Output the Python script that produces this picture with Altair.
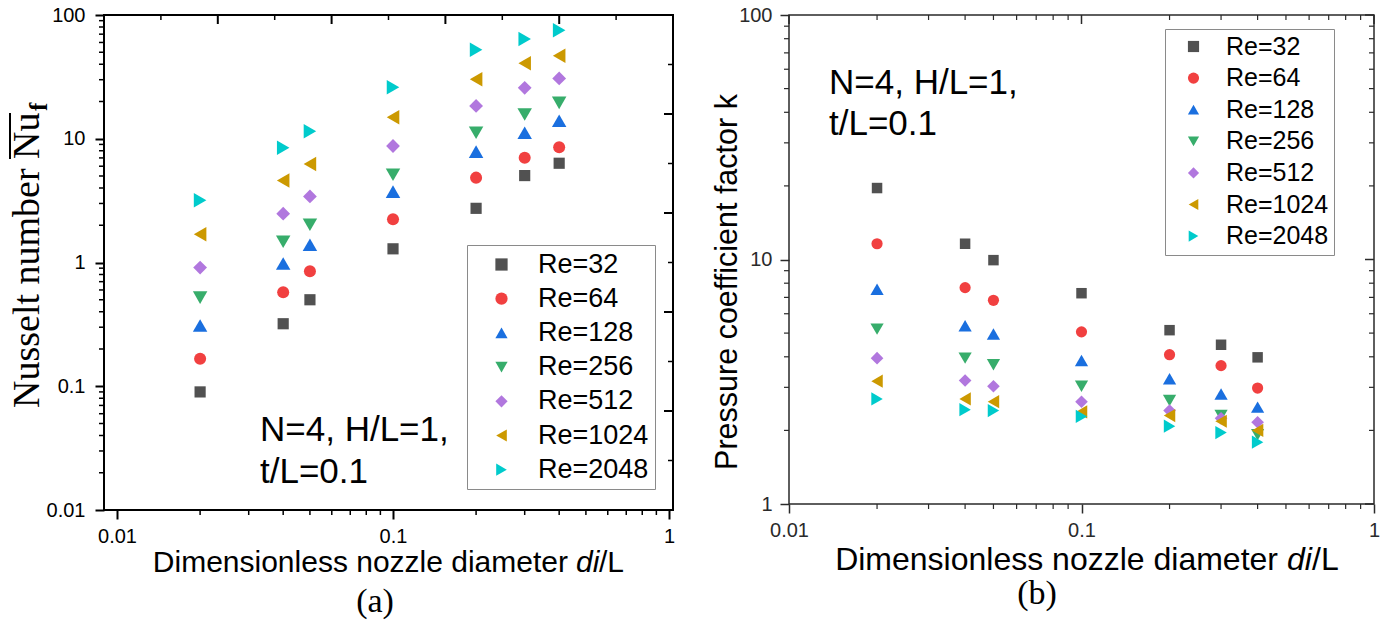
import altair as alt
import pandas as pd

# ---------------- data ----------------
x_vals = [0.02, 0.04, 0.05, 0.1, 0.2, 0.3, 0.4]
series = ["Re=32", "Re=64", "Re=128", "Re=256", "Re=512", "Re=1024", "Re=2048"]

nu_re32 = [0.09, 0.32, 0.50, 1.29, 2.74, 5.04, 6.34]
nu_re64 = [0.167, 0.575, 0.85, 2.24, 4.85, 7.03, 8.53]
nu_re128 = [0.31, 0.98, 1.39, 3.74, 7.87, 11.2, 13.96]
nu_re256 = [0.52, 1.47, 2.02, 5.12, 11.2, 15.7, 19.5]
nu_re512 = [0.91, 2.48, 3.42, 8.74, 18.4, 25.8, 30.7]
nu_re1024 = [1.69, 4.6, 6.25, 14.9, 30.2, 40.7, 46.9]
nu_re2048 = [3.18, 8.47, 11.5, 26.1, 52.4, 64.0, 75.4]

k_re32 = [19.6, 11.6, 9.94, 7.28, 5.14, 4.48, 3.98]
k_re64 = [11.6, 7.67, 6.81, 5.06, 4.08, 3.68, 2.98]
k_re128 = [7.55, 5.36, 4.96, 3.86, 3.25, 2.82, 2.49]
k_re256 = [5.19, 3.95, 3.71, 3.03, 2.65, 2.30, 1.92]
k_re512 = [3.95, 3.20, 3.03, 2.62, 2.41, 2.24, 2.16]
k_re1024 = [3.18, 2.69, 2.62, 2.38, 2.30, 2.18, 2.00]
k_re2048 = [2.69, 2.43, 2.41, 2.28, 2.08, 1.96, 1.79]

colors = ["#515151", "#F14040", "#1A6FDF", "#37AD6B", "#B177DE", "#CC9900", "#00CBCC"]
shapes = ["square", "circle", "triangle-up", "triangle-down", "diamond", "triangle-left", "triangle-right"]
sizes_a = [125, 145, 210, 210, 190, 210, 210]
sizes_b = [110, 125, 175, 175, 160, 175, 175]

# tick positions
x_major = [0.01, 0.1, 1]
x_minor = [0.02, 0.03, 0.04, 0.05, 0.06, 0.07, 0.08, 0.09,
           0.2, 0.3, 0.4, 0.5, 0.6, 0.7, 0.8, 0.9]
nu_major = [0.01, 0.1, 1, 10, 100]
nu_minor = [0.02, 0.03, 0.04, 0.05, 0.06, 0.07, 0.08, 0.09,
            0.2, 0.3, 0.4, 0.5, 0.6, 0.7, 0.8, 0.9,
            2, 3, 4, 5, 6, 7, 8, 9,
            20, 30, 40, 50, 60, 70, 80, 90]
k_major = [1, 10, 100]
k_minor = [2, 3, 4, 5, 6, 7, 8, 9, 20, 30, 40, 50, 60, 70, 80, 90]
lin_major = [0, 20, 40, 60, 80, 100]
lin_minor = [10, 30, 50, 70, 90]

annotation = ["N=4, H/L=1,", "t/L=0.1"]
nu_title = "Nusselt number Nu"
nu_sub = "f"
k_title = "Pressure coefficient factor k"
x_title_main = "Dimensionless nozzle diameter"
x_title_ital = "di"
x_title_end = "/L"
captions = ["(a)", "(b)"]

SANS = "Liberation Sans"
SERIF = "Liberation Serif"


def long_df(lists, sizes):
    rows = []
    for s, vals, sz in zip(series, lists, sizes):
        for xv, yv in zip(x_vals, vals):
            rows.append({"d": xv, "v": yv, "s": s, "sz": sz})
    return pd.DataFrame(rows)


nu_df = long_df([nu_re32, nu_re64, nu_re128, nu_re256, nu_re512, nu_re1024, nu_re2048], sizes_a)
k_df = long_df([k_re32, k_re64, k_re128, k_re256, k_re512, k_re1024, k_re2048], sizes_b)

one = pd.DataFrame({"a": [0]})


def vticks(values, scale, y0, y1, color, width):
    return alt.Chart(pd.DataFrame({"t": values})).mark_rule(color=color, strokeWidth=width).encode(
        x=alt.X("t:Q", scale=scale, axis=None), y=alt.value(y0), y2=alt.value(y1))


def hticks(values, scale, x0, x1, color, width):
    return alt.Chart(pd.DataFrame({"t": values})).mark_rule(color=color, strokeWidth=width).encode(
        y=alt.Y("t:Q", scale=scale, axis=None), x=alt.value(x0), x2=alt.value(x1))


def txt(text, x, y, size, font, angle=0, align="left", baseline="alphabetic",
        weight="normal", style="normal", color="black", line_height=None):
    kw = dict(text=text, align=align, baseline=baseline, fontSize=size, font=font,
              angle=angle, fontWeight=weight, fontStyle=style, color=color)
    if line_height is not None:
        kw["lineHeight"] = line_height
    return alt.Chart(one).mark_text(**kw).encode(x=alt.value(x), y=alt.value(y))


def make_legend(lx, ly, pad, soff, ssize, fsize, loff, rpad):
    return alt.Legend(orient="none", legendX=lx, legendY=ly, title=None, direction="vertical",
                      padding=pad, symbolOffset=soff, symbolSize=ssize, symbolStrokeWidth=0,
                      symbolOpacity=1, labelFont=SANS, labelFontSize=fsize, labelColor="black",
                      labelOffset=loff, rowPadding=rpad, strokeColor="#8a8a8a",
                      fillColor="white", labelLimit=400)


def axis(values, size, color, width, pad):
    return alt.Axis(values=values, format="~g", title=None, domain=False, grid=False,
                    tickSize=9, tickWidth=width, tickColor=color, labelFont=SANS,
                    labelFontSize=size, labelColor=color, labelPadding=pad,
                    labelFlush=False, labelOverlap=False, labelBound=False)


# ---------------- panel (a) ----------------
W1, H1 = 569, 495
ax_sc = alt.Scale(type="log", domain=[0.00897, 1.034], nice=False)
ay_sc = alt.Scale(type="log", domain=[0.01, 100], nice=False)
lin_sc = alt.Scale(type="linear", domain=[0, 100], nice=False, zero=False)
leg_a = make_legend(363, 230, 6, 15, 150, 27, 23, 6.2)

pts_a = alt.Chart(nu_df).mark_point(filled=True, opacity=1).encode(
    x=alt.X("d:Q", scale=ax_sc, axis=axis(x_major, 20, "black", 2, 7)),
    y=alt.Y("v:Q", scale=ay_sc, axis=axis(nu_major, 20, "black", 2, 10)),
    color=alt.Color("s:N", scale=alt.Scale(domain=series, range=colors), legend=leg_a),
    shape=alt.Shape("s:N", scale=alt.Scale(domain=series, range=shapes), legend=leg_a),
    size=alt.Size("sz:Q", scale=None, legend=None),
)

panel_a = alt.layer(
    hticks(nu_minor, ay_sc, -5, 0, "black", 1.5),
    vticks(x_minor, ax_sc, H1, H1 + 5, "black", 1.5),
    vticks(lin_major, lin_sc, 0, 9, "black", 2),
    vticks(lin_minor, lin_sc, 0, 5, "black", 1.5),
    hticks(lin_major, lin_sc, W1, W1 - 9, "black", 2),
    hticks(lin_minor, lin_sc, W1, W1 - 5, "black", 1.5),
    pts_a,
    txt(annotation, 156, 426, 35, SANS, line_height=42),
    txt(nu_title, -65, 393, 38, SERIF, angle=270),
    txt(nu_sub, -57, 96, 25, SERIF, angle=270, weight="bold"),
    alt.Chart(one).mark_rule(color="black", strokeWidth=2).encode(
        x=alt.value(-94), y=alt.value(98), y2=alt.value(144)),
    txt(x_title_main, 464, 557, 30, SANS, align="right"),
    txt(x_title_ital, 472, 557, 30, SANS, style="italic"),
    txt(x_title_end, 495, 557, 30, SANS),
    txt(captions[0], 271, 587, 34, SERIF, align="center", baseline="middle"),
).resolve_scale(x="independent", y="independent").properties(
    width=W1, height=H1, view=alt.ViewBackground(stroke="black", strokeWidth=2))

# ---------------- panel (b) ----------------
W2, H2 = 585, 489
bx_sc = alt.Scale(type="log", domain=[0.01, 1], nice=False)
by_sc = alt.Scale(type="log", domain=[1, 100], nice=False)
leg_b = make_legend(376, 14, 5, 11, 125, 25, 20, 5.6)
FR = "#2a2a2a"

pts_b = alt.Chart(k_df).mark_point(filled=True, opacity=1).encode(
    x=alt.X("d:Q", scale=bx_sc, axis=axis(x_major, 20, FR, 1.5, 7)),
    y=alt.Y("v:Q", scale=by_sc, axis=axis(k_major, 20, FR, 1.5, 8)),
    color=alt.Color("s:N", scale=alt.Scale(domain=series, range=colors), legend=leg_b),
    shape=alt.Shape("s:N", scale=alt.Scale(domain=series, range=shapes), legend=leg_b),
    size=alt.Size("sz:Q", scale=None, legend=None),
)

panel_b = alt.layer(
    hticks(k_minor, by_sc, -5, 0, FR, 1.2),
    vticks(x_minor, bx_sc, H2, H2 + 5, FR, 1.2),
    vticks(x_major, bx_sc, 0, 9, FR, 1.5),
    vticks(x_minor, bx_sc, 0, 5, FR, 1.2),
    hticks(k_major, by_sc, W2, W2 - 9, FR, 1.5),
    hticks(k_minor, by_sc, W2, W2 - 5, FR, 1.2),
    pts_b,
    txt(annotation, 40, 79, 35, SANS, line_height=41),
    txt(k_title, -52, 267, 30.5, SANS, angle=270, align="center"),
    txt(x_title_main, 489, 555, 32, SANS, align="right"),
    txt(x_title_ital, 498, 555, 32, SANS, style="italic"),
    txt(x_title_end, 523, 555, 32, SANS),
    txt(captions[1], 248, 579, 34, SERIF, align="center", baseline="middle"),
).resolve_scale(x="independent", y="independent").properties(
    width=W2, height=H2, view=alt.ViewBackground(stroke=FR, strokeWidth=1.5))

chart = alt.hconcat(panel_a, panel_b, spacing=116, bounds="flush").resolve_scale(
    color="independent", shape="independent"
).properties(
    padding={"left": 7, "top": 4, "right": 0, "bottom": 0},
    background="white",
).configure_view(stroke=None)

chart.save("out.html", embed_options={"renderer": "svg", "actions": False})
